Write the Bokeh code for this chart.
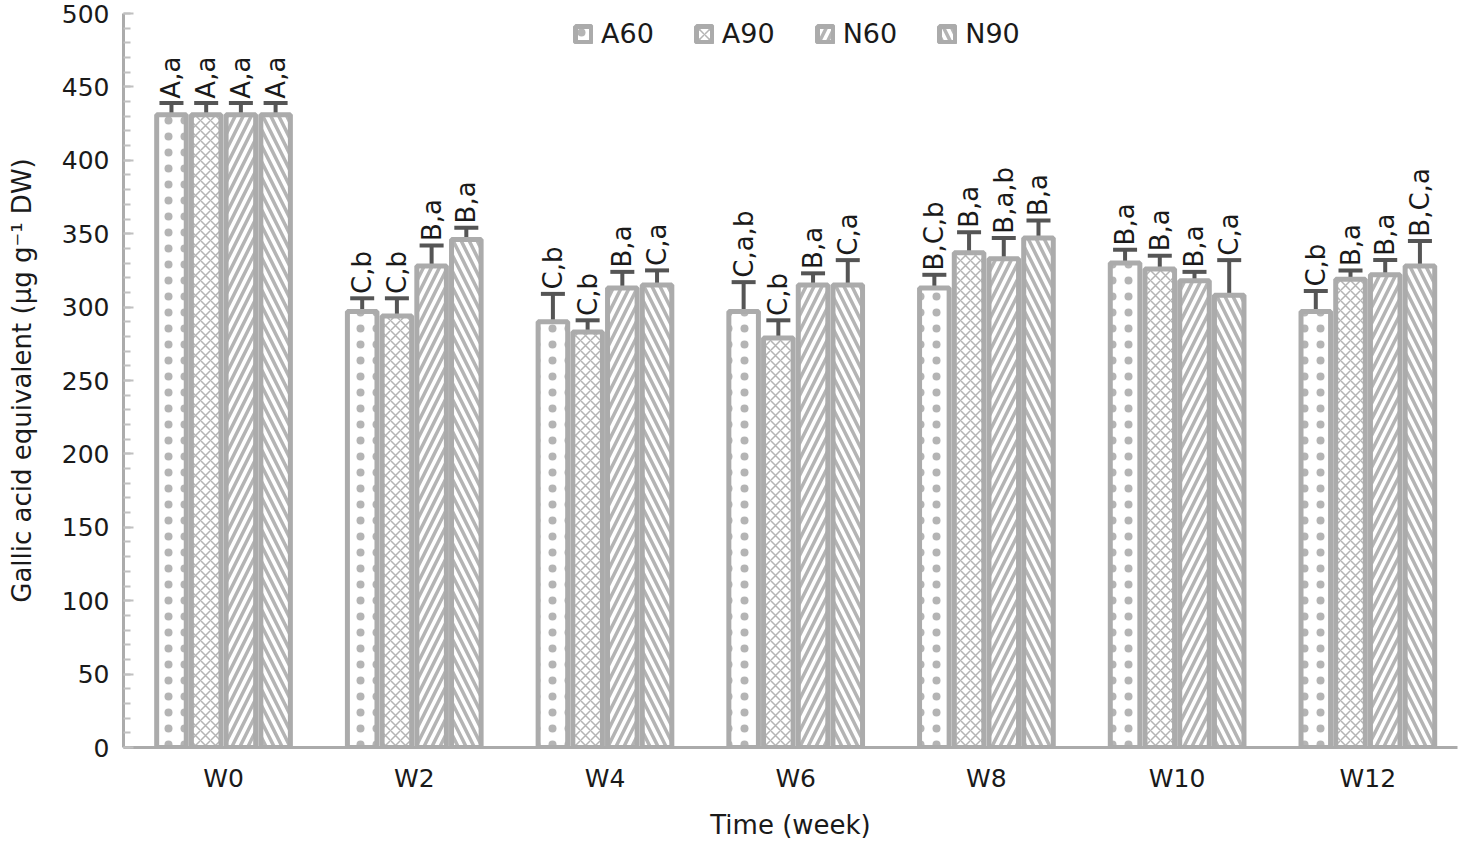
import math
from bokeh.plotting import figure
from bokeh.models import (ColumnDataSource, Whisker, TeeHead, Legend, LegendItem,
                          FixedTicker, Range1d)
from bokeh.core.properties import value
from bokeh.embed import file_html
from bokeh.resources import INLINE

weeks = ["W0", "W2", "W4", "W6", "W8", "W10", "W12"]
series = ["A60", "A90", "N60", "N90"]
means = {
    "A60": [431, 297, 290, 297, 313, 330, 297],
    "A90": [431, 294, 283, 279, 337, 326, 319],
    "N60": [431, 328, 313, 315, 333, 318, 322],
    "N90": [431, 346, 315, 315, 347, 308, 328],
}
errs = {
    "A60": [8, 9, 19, 20, 9, 9, 14],
    "A90": [8, 12, 8, 12, 14, 9, 6],
    "N60": [8, 14, 11, 8, 14, 6, 10],
    "N90": [8, 8, 10, 17, 12, 24, 17],
}
letters = {
    "A60": ["A,a", "C,b", "C,b", "C,a,b", "B,C,b", "B,a", "C,b"],
    "A90": ["A,a", "C,b", "C,b", "C,b", "B,a", "B,a", "B,a"],
    "N60": ["A,a", "B,a", "B,a", "B,a", "B,a,b", "B,a", "B,a"],
    "N90": ["A,a", "B,a", "C,a", "C,a", "B,a", "C,a", "B,C,a"],
}
hatches = {"A60": "dot", "A90": "diagonal_cross", "N60": "right_diagonal_line", "N90": "left_diagonal_line"}
hscale = {"A60": 16, "A90": 10, "N60": 16, "N90": 16}
hweight = {"A60": 1.5, "A90": 1.5, "N60": 3.5, "N90": 3.5}
offsets = [-0.273, -0.091, 0.091, 0.273]

FONT = "DejaVu Sans"
GRAY = "#ababab"
TXT = "#1a1a1a"

p = figure(width=1460, height=842, output_backend="svg", toolbar_location=None,
           x_range=Range1d(-0.5245, 6.47), y_range=Range1d(0, 500),
           min_border_left=123, min_border_right=3, min_border_top=13, min_border_bottom=80)
p.outline_line_color = None
p.xgrid.visible = False
p.ygrid.visible = False

items = []
for s, off in zip(series, offsets):
    xs = [i + off for i in range(len(weeks))]
    m = means[s]
    e = errs[s]
    src = ColumnDataSource(dict(x=xs, top=m, upper=[a + b for a, b in zip(m, e)],
                                lower=[a - b for a, b in zip(m, e)], lab=letters[s],
                                ly=[a + b + 3 for a, b in zip(m, e)]))
    r = p.vbar(x="x", top="top", width=0.155, source=src, fill_color="white",
               line_color=GRAY, line_width=5, hatch_pattern=hatches[s],
               hatch_color="#b4b4b4", hatch_scale=hscale[s], hatch_weight=hweight[s])
    items.append(LegendItem(label=s, renderers=[r]))
    w = Whisker(base="x", upper="upper", lower="lower", source=src,
                line_color="#555555", line_width=4,
                upper_head=TeeHead(size=24, line_color="#555555", line_width=4),
                lower_head=TeeHead(size=24, line_color="#555555", line_width=4))
    p.add_layout(w)
    p.text(x="x", y="ly", text="lab", source=src, angle=math.pi / 2,
           text_align="left", text_baseline="middle", text_font=value(FONT),
           text_font_size="26px", text_color=TXT)

legend = Legend(items=items, orientation="horizontal", location=(450, 698),
                label_text_font=FONT, label_text_font_size="27px", label_text_color=TXT,
                glyph_width=20, glyph_height=20, label_standoff=8, spacing=40,
                border_line_color=None, background_fill_alpha=0, margin=0, padding=4)
p.add_layout(legend)

p.xaxis.ticker = FixedTicker(ticks=list(range(len(weeks))))
p.xaxis.major_label_overrides = {i: w for i, w in enumerate(weeks)}
p.xaxis.major_tick_line_color = None
p.xaxis.minor_tick_line_color = None
p.xaxis.axis_line_color = GRAY
p.xaxis.axis_line_width = 3
p.xaxis.major_label_text_font = FONT
p.xaxis.major_label_text_font_size = "25px"
p.xaxis.major_label_text_color = TXT
p.xaxis.major_label_standoff = 10
p.xaxis.axis_label = "Time (week)"
p.xaxis.axis_label_text_font = FONT
p.xaxis.axis_label_text_font_size = "26px"
p.xaxis.axis_label_text_font_style = "normal"
p.xaxis.axis_label_text_color = TXT
p.xaxis.axis_label_standoff = 14

p.yaxis.ticker = FixedTicker(ticks=list(range(0, 501, 50)), minor_ticks=list(range(0, 501, 10)))
p.yaxis.axis_line_color = GRAY
p.yaxis.axis_line_width = 3
p.yaxis.major_tick_line_color = "#c0c0c0"
p.yaxis.major_tick_line_width = 2
p.yaxis.major_tick_in = 10
p.yaxis.major_tick_out = 0
p.yaxis.minor_tick_line_color = "#c0c0c0"
p.yaxis.minor_tick_line_width = 2
p.yaxis.minor_tick_in = 7
p.yaxis.minor_tick_out = 0
p.yaxis.major_label_text_font = FONT
p.yaxis.major_label_text_font_size = "25px"
p.yaxis.major_label_text_color = TXT
p.yaxis.major_label_standoff = 14
p.yaxis.axis_label = "Gallic acid equivalent (μg g⁻¹ DW)"
p.yaxis.axis_label_text_font = FONT
p.yaxis.axis_label_text_font_size = "26px"
p.yaxis.axis_label_text_font_style = "normal"
p.yaxis.axis_label_text_color = TXT
p.yaxis.axis_label_standoff = 22

open("out.html", "w").write(file_html(p, INLINE))
